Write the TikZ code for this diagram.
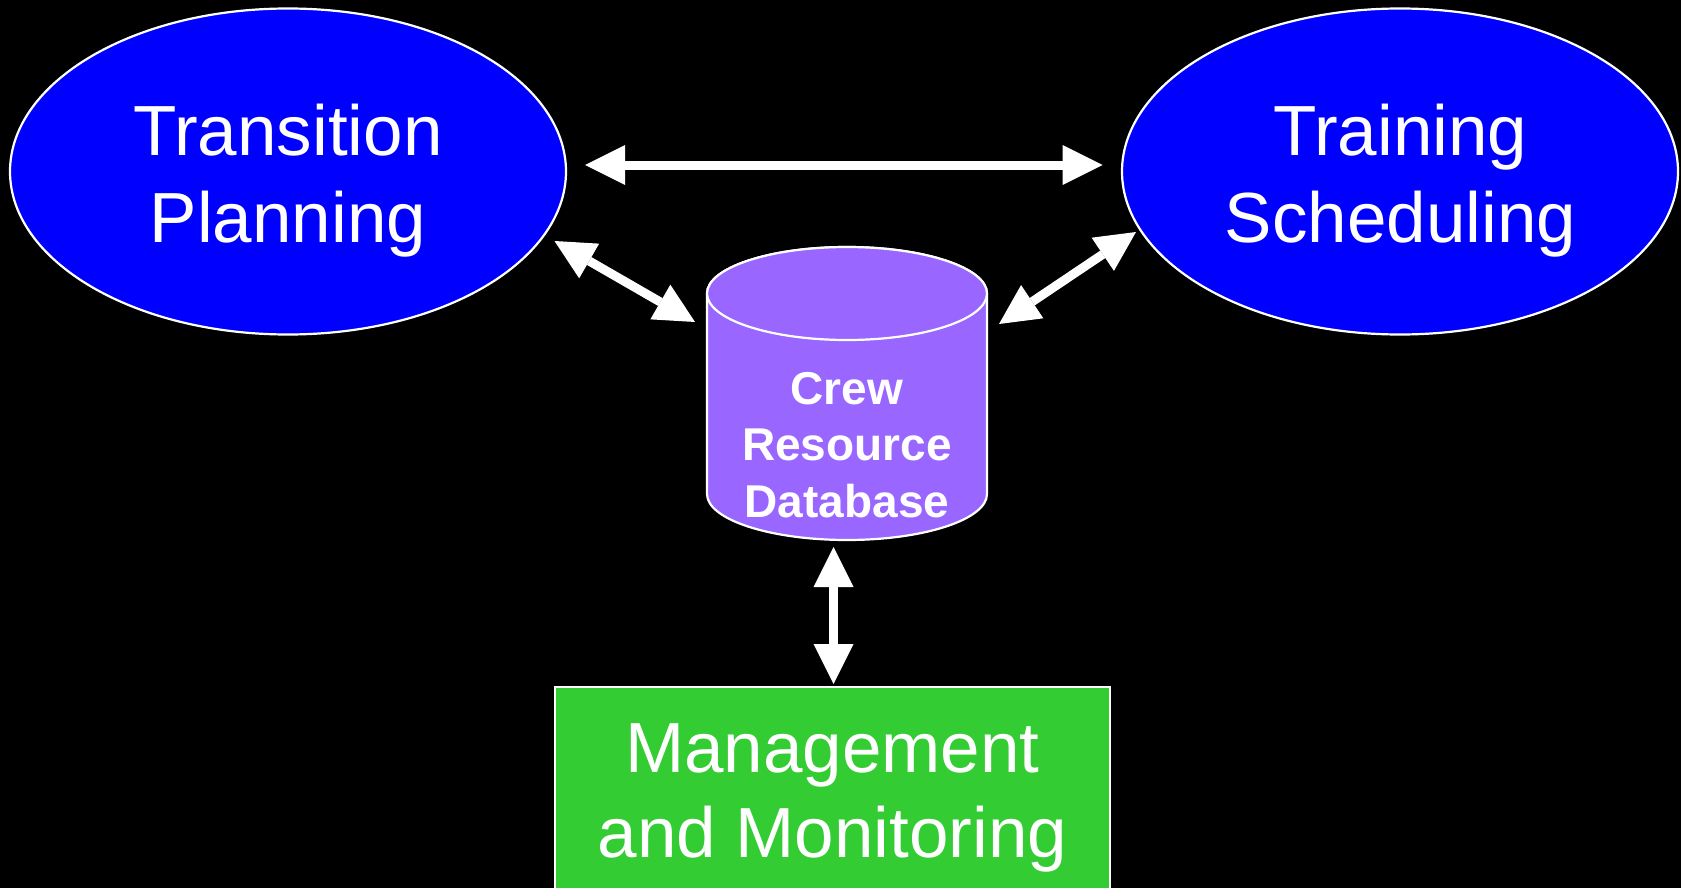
\documentclass[tikz,border=0pt]{standalone}
\usepackage{fontspec}
\setmainfont{Liberation Sans}
\usetikzlibrary{arrows.meta}

\definecolor{procblue}{HTML}{0000FF}
\definecolor{dbpurple}{HTML}{9966FF}
\definecolor{mgmtgreen}{HTML}{33CC33}

\tikzset{
  procshape/.style={draw=white, line width=2.2pt, fill=procblue},
  proclabel/.style={text=white, align=center, inner sep=0pt,
    font=\fontsize{71}{87}\selectfont},
  dblabel/.style={text=white, align=center, inner sep=0pt,
    font=\fontsize{46}{56.5}\selectfont\bfseries},
  mgmtlabel/.style={text=white, align=center, inner sep=0pt,
    font=\fontsize{71}{85}\selectfont},
  flow/.style={draw=white, line width=9pt,
    {Triangle[width=40pt,length=40pt,line width=0pt]}-{Triangle[width=40pt,length=40pt,line width=0pt]}}
}

\begin{document}
\begin{tikzpicture}[x=1pt, y=-1pt]
  % canvas
  \fill[black] (0,0) rectangle (1681,888);
  \useasboundingbox (0,0) rectangle (1681,888);

  % process ellipses
  \draw[procshape] (288,171.5) ellipse[x radius=278pt, y radius=163pt];
  \draw[procshape] (1400,171.5) ellipse[x radius=278pt, y radius=163pt];
  \node[proclabel] (tp) at (288,181) {Transition\\Planning};
  \node[proclabel] (ts) at (1400.5,181) {Training\\Scheduling};

  % database cylinder
  \path[fill=dbpurple, draw=white, line width=2.2pt]
    (707,293.5) -- (707,494)
    arc[start angle=180, end angle=360, x radius=140pt, y radius=46pt]
    -- (987,293.5)
    arc[start angle=0, end angle=180, x radius=140pt, y radius=46.5pt]
    -- cycle;
  \draw[draw=white, fill=dbpurple, line width=2.2pt]
    (847,293.5) ellipse[x radius=140pt, y radius=46.5pt];
  \node[dblabel] (db) at (847,445) {Crew\\Resource\\Database};

  % management box
  \draw[draw=white, fill=mgmtgreen, line width=2pt] (555,687) rectangle (1110,900);
  \node[mgmtlabel] (mm) at (832.5,797.5) {Management\\and Monitoring};

  % connector end points
  \coordinate (tpR) at (585,165);
  \coordinate (tsL) at (1102.5,165);
  \coordinate (tpD) at (554.5,241);
  \coordinate (dbL) at (695,322);
  \coordinate (tsD) at (1136,232);
  \coordinate (dbR) at (999,324);
  \coordinate (dbB) at (833.5,547);
  \coordinate (mmT) at (833.5,684);

  % two-way data flows
  \draw[flow] (tpR) -- (tsL);
  \draw[flow] (tpD) -- (dbL);
  \draw[flow] (tsD) -- (dbR);
  \draw[flow] (dbB) -- (mmT);
\end{tikzpicture}
\end{document}
